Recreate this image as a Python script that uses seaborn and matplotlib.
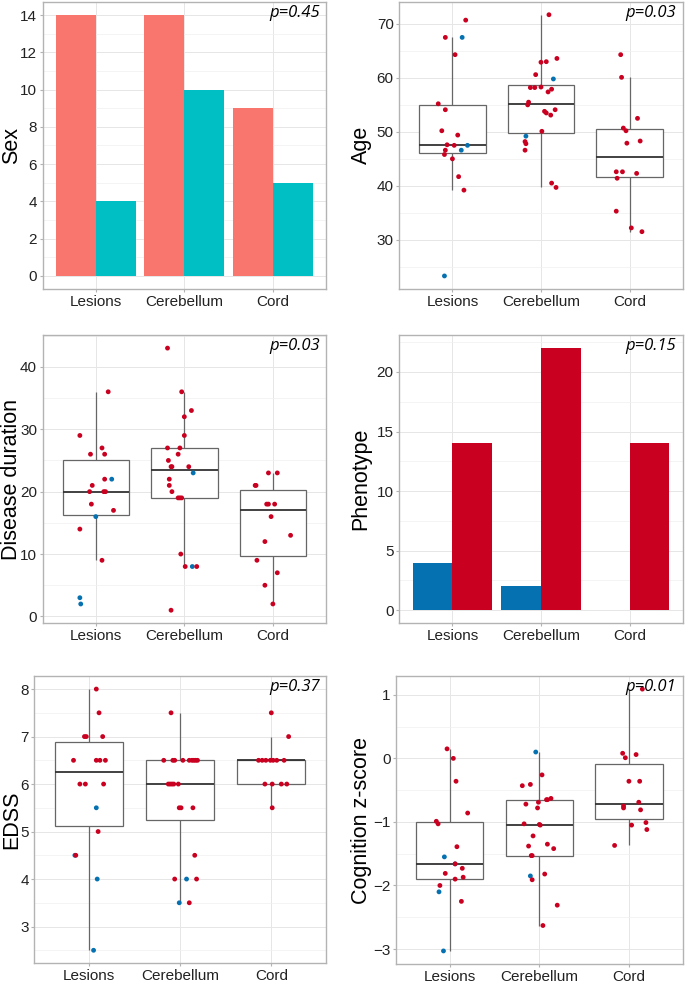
import pandas as pd
import matplotlib
matplotlib.use("Agg")
import matplotlib.pyplot as plt
import seaborn as sns
from matplotlib.ticker import MultipleLocator

groups = ["Lesions", "Cerebellum", "Cord"]

# bar panels (counts)
sex_first = [14, 14, 9]
sex_second = [4, 10, 5]
pheno_blue = [4, 2, 0]
pheno_red = [14, 22, 14]

# Age
age_lesions = [70.7, 67.5, 67.5, 64.3, 55.2, 54.1, 50.2, 49.4, 47.6, 47.5, 47.5, 46.6, 46.6, 45.8, 45.0, 41.7, 39.2, 23.3]
age_lesions_jit = [.15, -.08, .11, .03, -.16, -.08, -.12, .06, -.06, .02, .17, -.08, .10, -.09, 0, .07, .13, -.09]
age_lesions_type = "rrbrrrrrrrbrbrrrrb"
age_cerebellum = [71.7, 62.9, 63.0, 63.6, 60.6, 59.8, 58.2, 58.2, 58.3, 57.9, 57.4, 55.5, 55.0, 53.8, 53.5, 54.1,
                  53.1, 50.1, 49.2, 46.6, 48.2, 47.8, 40.5, 39.7]
age_cerebellum_jit = [.09, 0, .06, .18, -.06, .14, -.12, -.07, 0, .12, .08, -.14, -.15, .04, .06, .16, .11, .01,
                      -.17, -.18, -.18, -.17, .12, .17]
age_cerebellum_type = "rrrrrbrrrrrrrrrrrrbrrrrr"
age_cord = [64.3, 60.1, 52.5, 50.7, 50.2, 48.3, 47.9, 42.6, 42.6, 42.3, 41.4, 35.3, 32.2, 31.5]
age_cord_jit = [-.10, -.09, .09, -.07, -.04, .12, -.03, -.15, -.08, .08, -.14, -.15, .02, .14]
age_cord_type = "r" * 14

# Disease duration
dur_lesions = [36, 29, 27, 26, 26, 22, 22, 21, 20, 20, 20, 18, 17, 16, 14, 9, 3, 2]
dur_lesions_jit = [.14, -.18, .07, -.06, .10, .10, .18, -.04, -.07, .09, .11, -.05, .20, 0, -.18, .07, -.18, -.17]
dur_lesions_type = "rrrrrrbrrrrrrbrrbb"
dur_cerebellum = [43, 36, 33, 32, 29, 27, 27, 26, 25, 24, 24, 24, 23, 22, 21, 20, 19, 19, 19, 10, 8, 8, 8, 1]
dur_cerebellum_jit = [-.19, -.03, .08, 0, 0, -.19, -.05, -.07, -.18, -.15, .05, -.14, .10, -.17, -.17, -.14,
                      -.07, -.05, -.03, -.04, .01, .09, .14, -.15]
dur_cerebellum_type = "rrrrrrrrrrrrbrrrrrrrrbrr"
dur_cord = [23, 23, 21, 21, 18, 18, 18, 16, 12, 13, 9, 5, 7, 2]
dur_cord_jit = [-.05, .05, -.20, -.19, -.07, -.05, .02, -.02, -.09, .20, -.18, -.09, .05, 0]
dur_cord_type = "r" * 14

# EDSS
edss_lesions = [8.0, 7.5, 7.0, 7.0, 7.0, 6.5, 6.5, 6.5, 6.5, 6.0, 6.0, 6.0, 5.5, 5.0, 4.5, 4.5, 4.0, 2.5]
edss_lesions_jit = [.08, .11, -.05, -.03, .15, -.17, .08, .12, .18, -.10, -.04, .16, .08, .10, -.155, -.145, .09, .05]
edss_lesions_type = "rrrrrrrrrrrrbrbrbb"
edss_cerebellum = [7.5, 6.5, 6.5, 6.5, 6.5, 6.5, 6.5, 6.5, 6.5, 6.5, 6.0, 6.0, 6.0, 6.0, 6.0, 5.5, 5.5, 5.5,
                   4.5, 4.0, 4.0, 4.0, 3.5, 3.5]
edss_cerebellum_jit = [-.10, -.18, -.08, -.06, .03, .10, .13, .15, .17, .19, -.13, -.11, -.09, -.07, -.02,
                       -.01, .01, .14, .16, -.06, .07, .18, -.01, .10]
edss_cerebellum_type = "rrrrrrrrrrrrrrrrrrrrbrbr"
edss_cord = [7.5, 7.0, 6.5, 6.5, 6.5, 6.5, 6.5, 6.5, 6.5, 6.0, 6.0, 6.0, 6.0, 5.5]
edss_cord_jit = [0, .19, -.14, -.10, -.06, -.01, .02, .06, .14, -.07, .01, .11, .17, .01]
edss_cord_type = "r" * 14

# Cognition z-score
cog_lesions = [0.15, 0.0, -0.36, -0.86, -0.99, -1.03, -1.39, -1.55, -1.66, -1.66, -1.73, -1.81, -1.87, -1.90,
               -2.0, -2.10, -2.25, -3.03]
cog_lesions_jit = [-.03, .04, .07, .20, -.15, -.13, .08, -.06, .06, .06, .14, -.05, .15, .06, -.11, -.12, .13, -.07]
cog_lesions_type = "rrrrrrrbbrrrrrrbrb"
cog_cerebellum = [0.10, -0.26, -0.43, -0.41, -0.63, -0.65, -0.65, -0.72, -0.69, -0.78, -1.03, -1.04, -1.05,
                  -1.22, -1.38, -1.35, -1.42, -1.53, -1.53, -1.82, -1.85, -1.91, -2.31, -2.63]
cog_cerebellum_jit = [-.04, .03, -.19, -.10, .13, .08, .09, -.15, -.01, -.02, -.17, 0, .01, -.07, -.12, .09,
                      .16, -.09, -.08, .06, -.10, -.08, .20, .04]
cog_cerebellum_type = "brrrrrrrrrrrrrrrrrrrbrrr"
cog_cord = [1.09, 0.08, 0.01, 0.06, -0.36, -0.36, -0.69, -0.75, -0.78, -0.81, -1.01, -1.05, -1.12, -1.37]
cog_cord_jit = [.15, -.07, -.04, .08, 0, .12, .11, -.06, -.06, .13, .19, .03, .20, -.16]
cog_cord_type = "r" * 14

RED = "#CA0020"
BLUE = "#0571B0"
BORDER = "#b3b3b3"

plt.rcParams["font.family"] = ["Liberation Sans", "DejaVu Sans"]


def make_long(vals, jits, types):
    rows = []
    for gi, g in enumerate(groups):
        for v, j, t in zip(vals[gi], jits[gi], types[gi]):
            rows.append({"group": g, "value": v, "xpos": gi + j, "type": t})
    return pd.DataFrame(rows)


def style_panel(ax, ylabel, ptext, major, minor, ylim, label_x):
    ax.set_facecolor("white")
    for s in ax.spines.values():
        s.set_color(BORDER)
        s.set_linewidth(1.0)
    ax.set_xlim(-0.6, 2.6)
    ax.set_ylim(*ylim)
    ax.set_xticks([0, 1, 2], groups)
    ax.yaxis.set_major_locator(MultipleLocator(major))
    ax.yaxis.set_minor_locator(MultipleLocator(minor))
    ax.grid(True, which="major", axis="both", color="#e6e6e6", linewidth=0.7)
    ax.grid(True, which="minor", axis="y", color="#f0f0f0", linewidth=0.5)
    ax.set_axisbelow(True)
    ax.tick_params(which="major", length=2.5, color=BORDER, labelsize=11, labelcolor="#222222", pad=1.5)
    ax.tick_params(which="minor", length=0)
    ax.set_xlabel("")
    ax.set_ylabel(ylabel, fontsize=15.5, color="black")
    ax.yaxis.label.set_verticalalignment("baseline")
    ax.yaxis.set_label_coords(label_x, 0.5)
    ax.text(0.978, 0.988, ptext, transform=ax.transAxes, ha="right", va="top",
            style="italic", fontsize=12, family=["Open Sans", "DejaVu Sans"], zorder=5)


def expand(lo, hi):
    pad = (hi - lo) * 0.05
    return lo - pad, hi + pad


def box_panel(ax, vals, jits, types, ylabel, ptext, major, minor, label_x):
    df = make_long(vals, jits, types)
    sns.boxplot(data=df, x="group", y="value", order=groups, width=0.75, color="white",
                linecolor="#666666", linewidth=0.9, showcaps=False, showfliers=False,
                medianprops=dict(color="#333333", linewidth=1.3), ax=ax)
    sns.scatterplot(data=df, x="xpos", y="value", hue="type", palette={"r": RED, "b": BLUE},
                    s=12, linewidth=0, legend=False, ax=ax, zorder=3)
    style_panel(ax, ylabel, ptext, major, minor, expand(df["value"].min(), df["value"].max()), label_x)


def bar_panel(ax, first, second, labels, colors, ylabel, ptext, major, minor, label_x):
    df = pd.DataFrame({
        "group": groups * 2,
        "kind": [labels[0]] * 3 + [labels[1]] * 3,
        "count": first + second,
    })
    sns.barplot(data=df, x="group", y="count", hue="kind", order=groups, hue_order=labels,
                palette=dict(zip(labels, colors)), width=0.9, saturation=1, linewidth=0,
                legend=False, ax=ax)
    style_panel(ax, ylabel, ptext, major, minor, expand(0, df["count"].max()), label_x)


fig = plt.figure(figsize=(6.85, 9.83), dpi=100)
ax1 = fig.add_axes([0.0623, 0.706, 0.4136, 0.292])
ax2 = fig.add_axes([0.5829, 0.706, 0.4137, 0.2923])
ax3 = fig.add_axes([0.0623, 0.3659, 0.4136, 0.2933])
ax4 = fig.add_axes([0.5829, 0.3659, 0.4137, 0.2933])
ax5 = fig.add_axes([0.0501, 0.0200, 0.4258, 0.2923])
ax6 = fig.add_axes([0.5781, 0.0193, 0.4185, 0.293])

bar_panel(ax1, sex_first, sex_second, ["Female", "Male"], ["#F8766D", "#00BFC4"],
          "Sex", "p=0.45", 2, 1, -0.091)
box_panel(ax2, [age_lesions, age_cerebellum, age_cord],
          [age_lesions_jit, age_cerebellum_jit, age_cord_jit],
          [age_lesions_type, age_cerebellum_type, age_cord_type], "Age", "p=0.03", 10, 5, -0.115)
box_panel(ax3, [dur_lesions, dur_cerebellum, dur_cord],
          [dur_lesions_jit, dur_cerebellum_jit, dur_cord_jit],
          [dur_lesions_type, dur_cerebellum_type, dur_cord_type], "Disease duration", "p=0.03", 10, 5, -0.092)
bar_panel(ax4, pheno_blue, pheno_red, ["Type A", "Type B"], [BLUE, RED],
          "Phenotype", "p=0.15", 5, 2.5, -0.115)
box_panel(ax5, [edss_lesions, edss_cerebellum, edss_cord],
          [edss_lesions_jit, edss_cerebellum_jit, edss_cord_jit],
          [edss_lesions_type, edss_cerebellum_type, edss_cord_type], "EDSS", "p=0.37", 1, 0.5, -0.060)
box_panel(ax6, [cog_lesions, cog_cerebellum, cog_cord],
          [cog_lesions_jit, cog_cerebellum_jit, cog_cord_jit],
          [cog_lesions_type, cog_cerebellum_type, cog_cord_type], "Cognition z-score", "p=0.01", 1, 0.5, -0.102)

fig.savefig("out.png", dpi=100)
